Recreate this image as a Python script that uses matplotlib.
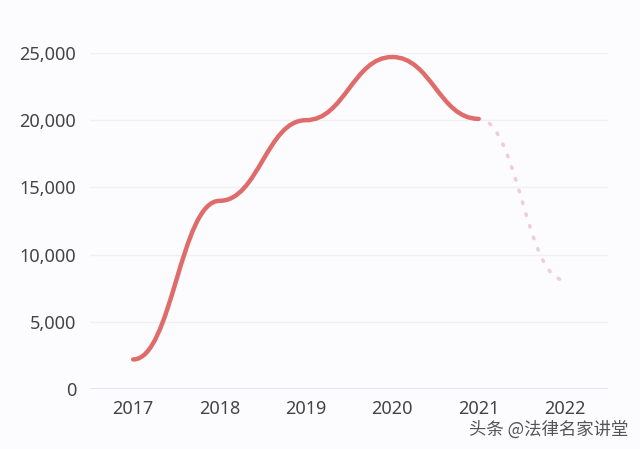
import matplotlib.pyplot as plt
from matplotlib.path import Path
from matplotlib.patches import PathPatch

years = ['2017', '2018', '2019', '2020', '2021', '2022']
values = [2200, 14000, 20000, 24700, 20100, 8100]
n_actual = 5  # 2017-2021 solid, 2021-2022 forecast (dotted)


def smooth_path(xs, ys, k=0.45):
    # cubic bezier segments with flat handles at every data point
    verts = [(xs[0], ys[0])]
    codes = [Path.MOVETO]
    for i in range(len(xs) - 1):
        dx = xs[i + 1] - xs[i]
        verts += [(xs[i] + k * dx, ys[i]), (xs[i + 1] - k * dx, ys[i + 1]), (xs[i + 1], ys[i + 1])]
        codes += [Path.CURVE4] * 3
    return Path(verts, codes)


plt.rcParams['font.family'] = ['Noto Sans', 'DejaVu Sans']

fig = plt.figure(figsize=(6.4, 4.49), dpi=100)
fig.patch.set_facecolor('#fcfcfe')
ax = fig.add_axes([0.1406, 0.1336, 0.8094, 0.7484])
ax.set_facecolor('#fcfcfe')

x = list(range(len(years)))
solid = smooth_path(x[:n_actual], values[:n_actual])
ax.add_patch(PathPatch(solid, fill=False, edgecolor='#e06b6b', lw=3.2,
                       capstyle='round', clip_on=False, zorder=3))
fc = smooth_path(x[n_actual - 1:], values[n_actual - 1:])
ax.add_patch(PathPatch(fc, fill=False, edgecolor='#efcfd3', lw=2.6,
                       linestyle=(0, (0.4, 3.0)), capstyle='round', clip_on=False, zorder=2))

ax.set_xlim(-0.5, len(years) - 0.5)
ax.set_ylim(0, 25000)
ax.set_xticks(x)
ax.set_xticklabels(years)
ax.set_yticks(range(0, 25001, 5000))
ax.set_yticklabels([f'{v:,}' for v in range(0, 25001, 5000)])
ax.tick_params(length=0, labelsize=13, colors='#444444')
ax.tick_params(axis='y', pad=10)
ax.tick_params(axis='x', pad=8)
for s in ax.spines.values():
    s.set_visible(False)
ax.grid(axis='y', color='#f0f0f3', lw=1)
ax.axhline(0, color='#e2e2e6', lw=1.2)

fig.text(0.982, 0.022, '头条 @法律名家讲堂', ha='right', va='bottom', fontsize=12.5,
         color='#555555', family=['Noto Sans CJK SC', 'DejaVu Sans'])

fig.savefig('out.png', dpi=100, facecolor=fig.get_facecolor())
